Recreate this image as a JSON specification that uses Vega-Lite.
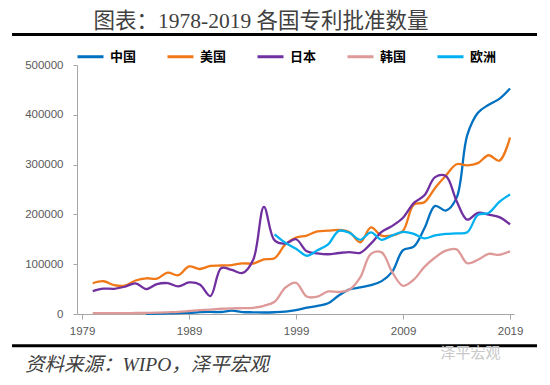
{
  "$schema": "https://vega.github.io/schema/vega-lite/v6.json",
  "width": 437,
  "height": 249,
  "autosize": "none",
  "padding": {"left": 77, "top": 65, "right": 36, "bottom": 71},
  "background": "white",
  "config": {
    "view": {"stroke": null},
    "axis": {
      "labelFont": "Liberation Sans",
      "labelFontSize": 11.5,
      "labelColor": "#595959",
      "domainColor": "#A6A6A6",
      "tickColor": "#A6A6A6",
      "grid": false,
      "title": null
    }
  },
  "datasets": {
    "patents": [
      {"country": "中国", "year": 1985, "value": 200},
      {"country": "中国", "year": 1986, "value": 600},
      {"country": "中国", "year": 1987, "value": 1100},
      {"country": "中国", "year": 1988, "value": 2000},
      {"country": "中国", "year": 1989, "value": 2300},
      {"country": "中国", "year": 1990, "value": 3800},
      {"country": "中国", "year": 1991, "value": 4100},
      {"country": "中国", "year": 1992, "value": 4000},
      {"country": "中国", "year": 1993, "value": 6600},
      {"country": "中国", "year": 1994, "value": 3900},
      {"country": "中国", "year": 1995, "value": 3400},
      {"country": "中国", "year": 1996, "value": 3000},
      {"country": "中国", "year": 1997, "value": 3500},
      {"country": "中国", "year": 1998, "value": 4700},
      {"country": "中国", "year": 1999, "value": 7600},
      {"country": "中国", "year": 2000, "value": 12700},
      {"country": "中国", "year": 2001, "value": 16300},
      {"country": "中国", "year": 2002, "value": 21500},
      {"country": "中国", "year": 2003, "value": 37200},
      {"country": "中国", "year": 2004, "value": 49400},
      {"country": "中国", "year": 2005, "value": 53300},
      {"country": "中国", "year": 2006, "value": 57800},
      {"country": "中国", "year": 2007, "value": 66000},
      {"country": "中国", "year": 2008, "value": 85000},
      {"country": "中国", "year": 2009, "value": 128500},
      {"country": "中国", "year": 2010, "value": 135100},
      {"country": "中国", "year": 2011, "value": 172100},
      {"country": "中国", "year": 2012, "value": 217100},
      {"country": "中国", "year": 2013, "value": 207700},
      {"country": "中国", "year": 2014, "value": 233200},
      {"country": "中国", "year": 2015, "value": 359300},
      {"country": "中国", "year": 2016, "value": 404200},
      {"country": "中国", "year": 2017, "value": 420100},
      {"country": "中国", "year": 2018, "value": 432100},
      {"country": "中国", "year": 2019, "value": 452800},

      {"country": "美国", "year": 1980, "value": 61800},
      {"country": "美国", "year": 1981, "value": 65800},
      {"country": "美国", "year": 1982, "value": 57900},
      {"country": "美国", "year": 1983, "value": 56900},
      {"country": "美国", "year": 1984, "value": 67200},
      {"country": "美国", "year": 1985, "value": 71700},
      {"country": "美国", "year": 1986, "value": 70900},
      {"country": "美国", "year": 1987, "value": 83000},
      {"country": "美国", "year": 1988, "value": 77900},
      {"country": "美国", "year": 1989, "value": 95500},
      {"country": "美国", "year": 1990, "value": 90400},
      {"country": "美国", "year": 1991, "value": 96500},
      {"country": "美国", "year": 1992, "value": 97400},
      {"country": "美国", "year": 1993, "value": 98300},
      {"country": "美国", "year": 1994, "value": 101700},
      {"country": "美国", "year": 1995, "value": 101400},
      {"country": "美国", "year": 1996, "value": 109600},
      {"country": "美国", "year": 1997, "value": 112000},
      {"country": "美国", "year": 1998, "value": 140000},
      {"country": "美国", "year": 1999, "value": 153500},
      {"country": "美国", "year": 2000, "value": 157500},
      {"country": "美国", "year": 2001, "value": 166000},
      {"country": "美国", "year": 2002, "value": 167300},
      {"country": "美国", "year": 2003, "value": 169000},
      {"country": "美国", "year": 2004, "value": 164300},
      {"country": "美国", "year": 2005, "value": 143800},
      {"country": "美国", "year": 2006, "value": 173800},
      {"country": "美国", "year": 2007, "value": 157300},
      {"country": "美国", "year": 2008, "value": 157800},
      {"country": "美国", "year": 2009, "value": 167300},
      {"country": "美国", "year": 2010, "value": 219600},
      {"country": "美国", "year": 2011, "value": 224500},
      {"country": "美国", "year": 2012, "value": 253200},
      {"country": "美国", "year": 2013, "value": 277800},
      {"country": "美国", "year": 2014, "value": 300700},
      {"country": "美国", "year": 2015, "value": 298400},
      {"country": "美国", "year": 2016, "value": 303000},
      {"country": "美国", "year": 2017, "value": 318800},
      {"country": "美国", "year": 2018, "value": 307800},
      {"country": "美国", "year": 2019, "value": 354400},

      {"country": "日本", "year": 1980, "value": 46100},
      {"country": "日本", "year": 1981, "value": 50900},
      {"country": "日本", "year": 1982, "value": 50600},
      {"country": "日本", "year": 1983, "value": 54700},
      {"country": "日本", "year": 1984, "value": 61600},
      {"country": "日本", "year": 1985, "value": 50100},
      {"country": "日本", "year": 1986, "value": 60000},
      {"country": "日本", "year": 1987, "value": 62000},
      {"country": "日本", "year": 1988, "value": 55300},
      {"country": "日本", "year": 1989, "value": 63300},
      {"country": "日本", "year": 1990, "value": 59400},
      {"country": "日本", "year": 1991, "value": 36100},
      {"country": "日本", "year": 1992, "value": 92100},
      {"country": "日本", "year": 1993, "value": 88400},
      {"country": "日本", "year": 1994, "value": 82400},
      {"country": "日本", "year": 1995, "value": 109100},
      {"country": "日本", "year": 1996, "value": 215100},
      {"country": "日本", "year": 1997, "value": 147700},
      {"country": "日本", "year": 1998, "value": 141400},
      {"country": "日本", "year": 1999, "value": 150100},
      {"country": "日本", "year": 2000, "value": 125900},
      {"country": "日本", "year": 2001, "value": 121700},
      {"country": "日本", "year": 2002, "value": 120000},
      {"country": "日本", "year": 2003, "value": 122500},
      {"country": "日本", "year": 2004, "value": 124200},
      {"country": "日本", "year": 2005, "value": 122900},
      {"country": "日本", "year": 2006, "value": 141400},
      {"country": "日本", "year": 2007, "value": 165000},
      {"country": "日本", "year": 2008, "value": 177000},
      {"country": "日本", "year": 2009, "value": 193300},
      {"country": "日本", "year": 2010, "value": 222700},
      {"country": "日本", "year": 2011, "value": 238300},
      {"country": "日本", "year": 2012, "value": 274800},
      {"country": "日本", "year": 2013, "value": 277100},
      {"country": "日本", "year": 2014, "value": 227100},
      {"country": "日本", "year": 2015, "value": 189400},
      {"country": "日本", "year": 2016, "value": 203100},
      {"country": "日本", "year": 2017, "value": 199600},
      {"country": "日本", "year": 2018, "value": 194500},
      {"country": "日本", "year": 2019, "value": 179900},

      {"country": "韩国", "year": 1980, "value": 1600},
      {"country": "韩国", "year": 1981, "value": 1800},
      {"country": "韩国", "year": 1982, "value": 1800},
      {"country": "韩国", "year": 1983, "value": 1600},
      {"country": "韩国", "year": 1984, "value": 2000},
      {"country": "韩国", "year": 1985, "value": 2300},
      {"country": "韩国", "year": 1986, "value": 2600},
      {"country": "韩国", "year": 1987, "value": 3400},
      {"country": "韩国", "year": 1988, "value": 4300},
      {"country": "韩国", "year": 1989, "value": 6000},
      {"country": "韩国", "year": 1990, "value": 7800},
      {"country": "韩国", "year": 1991, "value": 8700},
      {"country": "韩国", "year": 1992, "value": 10500},
      {"country": "韩国", "year": 1993, "value": 11400},
      {"country": "韩国", "year": 1994, "value": 11700},
      {"country": "韩国", "year": 1995, "value": 12500},
      {"country": "韩国", "year": 1996, "value": 16500},
      {"country": "韩国", "year": 1997, "value": 24600},
      {"country": "韩国", "year": 1998, "value": 52900},
      {"country": "韩国", "year": 1999, "value": 62600},
      {"country": "韩国", "year": 2000, "value": 35000},
      {"country": "韩国", "year": 2001, "value": 34700},
      {"country": "韩国", "year": 2002, "value": 45300},
      {"country": "韩国", "year": 2003, "value": 44200},
      {"country": "韩国", "year": 2004, "value": 49100},
      {"country": "韩国", "year": 2005, "value": 73500},
      {"country": "韩国", "year": 2006, "value": 120800},
      {"country": "韩国", "year": 2007, "value": 123700},
      {"country": "韩国", "year": 2008, "value": 83500},
      {"country": "韩国", "year": 2009, "value": 56700},
      {"country": "韩国", "year": 2010, "value": 68800},
      {"country": "韩国", "year": 2011, "value": 94700},
      {"country": "韩国", "year": 2012, "value": 113500},
      {"country": "韩国", "year": 2013, "value": 127300},
      {"country": "韩国", "year": 2014, "value": 129800},
      {"country": "韩国", "year": 2015, "value": 101900},
      {"country": "韩国", "year": 2016, "value": 108900},
      {"country": "韩国", "year": 2017, "value": 120700},
      {"country": "韩国", "year": 2018, "value": 119000},
      {"country": "韩国", "year": 2019, "value": 125800},

      {"country": "欧洲", "year": 1997, "value": 160000},
      {"country": "欧洲", "year": 1998, "value": 143000},
      {"country": "欧洲", "year": 1999, "value": 131000},
      {"country": "欧洲", "year": 2000, "value": 117000},
      {"country": "欧洲", "year": 2001, "value": 128000},
      {"country": "欧洲", "year": 2002, "value": 140000},
      {"country": "欧洲", "year": 2003, "value": 167000},
      {"country": "欧洲", "year": 2004, "value": 163000},
      {"country": "欧洲", "year": 2005, "value": 149000},
      {"country": "欧洲", "year": 2006, "value": 164000},
      {"country": "欧洲", "year": 2007, "value": 149000},
      {"country": "欧洲", "year": 2008, "value": 158000},
      {"country": "欧洲", "year": 2009, "value": 165000},
      {"country": "欧洲", "year": 2010, "value": 161000},
      {"country": "欧洲", "year": 2011, "value": 152000},
      {"country": "欧洲", "year": 2012, "value": 158000},
      {"country": "欧洲", "year": 2013, "value": 161000},
      {"country": "欧洲", "year": 2014, "value": 162000},
      {"country": "欧洲", "year": 2015, "value": 164000},
      {"country": "欧洲", "year": 2016, "value": 199000},
      {"country": "欧洲", "year": 2017, "value": 203000},
      {"country": "欧洲", "year": 2018, "value": 225000},
      {"country": "欧洲", "year": 2019, "value": 240000}
    ]
  },
  "layer": [
    {
      "data": {"name": "patents"},
      "mark": {"type": "line", "interpolate": "catmull-rom", "strokeWidth": 2.3},
      "encoding": {
        "x": {
          "field": "year",
          "type": "quantitative",
          "scale": {"domain": [1978.53, 2019.37], "nice": false, "zero": false},
          "axis": {
            "values": [1979, 1989, 1999, 2009, 2019],
            "format": "d",
            "tickSize": 5,
            "labelPadding": 6,
            "labelFlush": false
          }
        },
        "y": {
          "field": "value",
          "type": "quantitative",
          "scale": {"domain": [0, 500000], "nice": false},
          "axis": {
            "values": [0, 50000, 100000, 150000, 200000, 250000, 300000, 350000, 400000, 450000, 500000],
            "format": "d",
            "tickSize": 4,
            "labelPadding": 10
          }
        },
        "color": {
          "field": "country",
          "type": "nominal",
          "scale": {
            "domain": ["中国", "美国", "日本", "韩国", "欧洲"],
            "range": ["#0070C0", "#F07818", "#7030A0", "#DE9A98", "#00B0F0"]
          },
          "legend": {
            "title": null,
            "orient": "none",
            "legendX": -1,
            "legendY": -23,
            "direction": "horizontal",
            "columns": 5,
            "symbolType": "stroke",
            "symbolSize": 676,
            "symbolStrokeWidth": 3,
            "labelFont": "Noto Sans CJK SC",
            "labelFontSize": 13,
            "labelFontWeight": "bold",
            "labelColor": "#000000",
            "labelOffset": 5,
            "columnPadding": 24
          }
        }
      }
    },
    {
      "data": {"values": [{"label": "图表：1978-2019 各国专利批准数量"}]},
      "mark": {
        "type": "text",
        "align": "center",
        "baseline": "middle",
        "font": "Liberation Serif, Noto Sans CJK SC",
        "fontSize": 21.5,
        "color": "#404040"
      },
      "encoding": {
        "text": {"field": "label"},
        "x": {"datum": 1995.73},
        "y": {"datum": 586000}
      }
    },
    {
      "data": {"values": [{}]},
      "mark": {"type": "rule", "color": "#000000", "strokeWidth": 3},
      "encoding": {
        "x": {"datum": 1972.46},
        "x2": {"datum": 2021.52},
        "y": {"datum": 561000}
      }
    },
    {
      "data": {"values": [{}]},
      "mark": {"type": "rule", "color": "#000000", "strokeWidth": 3},
      "encoding": {
        "x": {"datum": 1972.46},
        "x2": {"datum": 2021.52},
        "y": {"datum": -63700}
      }
    },
    {
      "data": {"values": [{"label": "资料来源：WIPO，泽平宏观"}]},
      "mark": {
        "type": "text",
        "align": "left",
        "baseline": "middle",
        "font": "Liberation Serif, Noto Sans CJK SC",
        "fontSize": 19.5,
        "fontStyle": "italic",
        "color": "#404040"
      },
      "encoding": {
        "text": {"field": "label"},
        "x": {"datum": 1973.67},
        "y": {"datum": -102400}
      }
    },
    {
      "data": {"values": [{"label": "泽平宏观"}]},
      "mark": {
        "type": "text",
        "align": "right",
        "baseline": "middle",
        "font": "Noto Sans CJK SC",
        "fontSize": 15,
        "color": "#C8C8C8"
      },
      "encoding": {
        "text": {"field": "label"},
        "x": {"datum": 2018.1},
        "y": {"datum": -78300}
      }
    }
  ]
}
